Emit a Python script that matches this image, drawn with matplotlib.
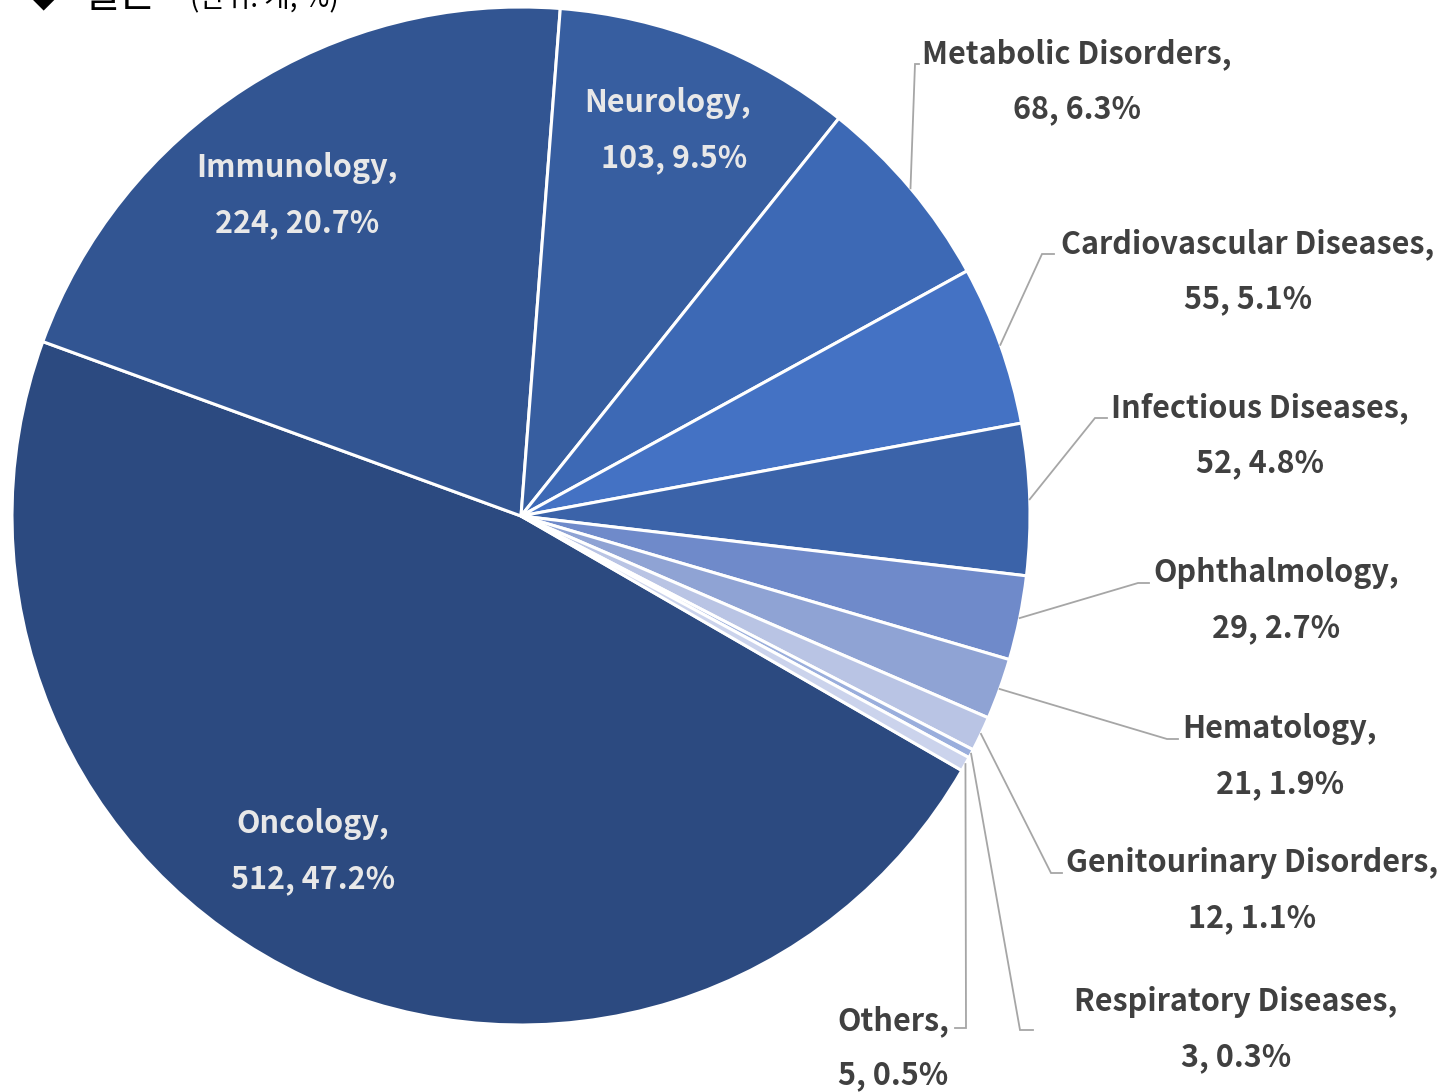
import numpy as np
import matplotlib
matplotlib.use("Agg")
import matplotlib.pyplot as plt

plt.rcParams['font.family'] = ['Noto Sans CJK KR', 'DejaVu Sans']

# data, in the order Excel drew it (first slice at 120 deg, clockwise)
categories = ["Oncology", "Immunology", "Neurology", "Metabolic Disorders",
              "Cardiovascular Diseases", "Infectious Diseases", "Ophthalmology",
              "Hematology", "Genitourinary Disorders", "Respiratory Diseases",
              "Others"]
counts = [512, 224, 103, 68, 55, 52, 29, 21, 12, 3, 5]
colors = ["#2C4A80", "#325592", "#375EA0", "#3D69B5", "#4472C4", "#3B63A9",
          "#6F8ACA", "#8FA3D4", "#B9C4E4", "#9AAEDC", "#CBD3EC"]

W, H = 1445, 1092
CX, CY, R = 521, H - 516, 509

# label layout in pixel coords (y from top)
# inside labels: (x line1, y line1, x line2, y line2)
inside = {
    "Oncology": (313, 824, 313, 879),
    "Immunology": (297, 168, 297, 223),
    "Neurology": (668, 103, 674, 158),
}
# outside labels: text centre x, y line1, y line2, elbow x, elbow y, hook end x
outside = {
    "Metabolic Disorders": (1077, 54, 109, 915, 64, 919),
    "Cardiovascular Diseases": (1248, 244, 299, 1042, 254, 1054),
    "Infectious Diseases": (1260, 408, 463, 1095, 418, 1107),
    "Ophthalmology": (1276, 573, 628, 1138, 583, 1149),
    "Hematology": (1280, 729, 784, 1167, 739, 1178),
    "Genitourinary Disorders": (1252, 863, 918, 1051, 873, 1062),
    "Respiratory Diseases": (1236, 1002, 1057, 1020, 1030, 1033),
    "Others": (893, 1021, 1075, 966, 1028, 955),
}

fig = plt.figure(figsize=(W / 100, H / 100), dpi=100)
ax = fig.add_axes([0, 0, 1, 1])

wedges, _ = ax.pie(counts, colors=colors, startangle=-30, counterclock=False,
                   center=(CX, CY), radius=R, frame=True,
                   wedgeprops=dict(edgecolor="white", linewidth=2.2))
ax.set_xlim(0, W)
ax.set_ylim(0, H)
ax.axis("off")

total = sum(counts)
fs = 22
for name, n, w in zip(categories, counts, wedges):
    pct = 100.0 * n / total
    line1 = name + ","
    line2 = f"{n}, {pct:.1f}%"
    if name in inside:
        x1, y1, x2, y2 = inside[name]
        ax.text(x1, H - y1, line1, ha="center", va="center", fontsize=fs,
                fontweight="bold", color="#E8E8E8")
        ax.text(x2, H - y2, line2, ha="center", va="center", fontsize=fs,
                fontweight="bold", color="#E8E8E8")
        continue
    tx, ty1, ty2, ex, ey, hx = outside[name]
    ax.text(tx, H - ty1, line1, ha="center", va="center", fontsize=fs,
            fontweight="bold", color="#404040")
    ax.text(tx, H - ty2, line2, ha="center", va="center", fontsize=fs,
            fontweight="bold", color="#404040")
    # leader from the slice edge at its mid angle
    mid = np.deg2rad((w.theta1 + w.theta2) / 2)
    sx = CX + R * np.cos(mid)
    sy = CY + R * np.sin(mid)
    ax.plot([sx, ex, hx], [sy, H - ey, H - ey], color="#A6A6A6", lw=1.3,
            solid_joinstyle="miter")

# header, cut off by the top edge as in the source
ax.text(27, H - 7, "◆", ha="left", va="baseline", fontsize=24, color="black")
ax.text(82, H - 7, "일본", ha="left", va="baseline", fontsize=29,
        color="black")
ax.text(190, H - 7, "(단위: 개, %)", ha="left", va="baseline", fontsize=20,
        color="black")

fig.savefig("out.png", dpi=100)
